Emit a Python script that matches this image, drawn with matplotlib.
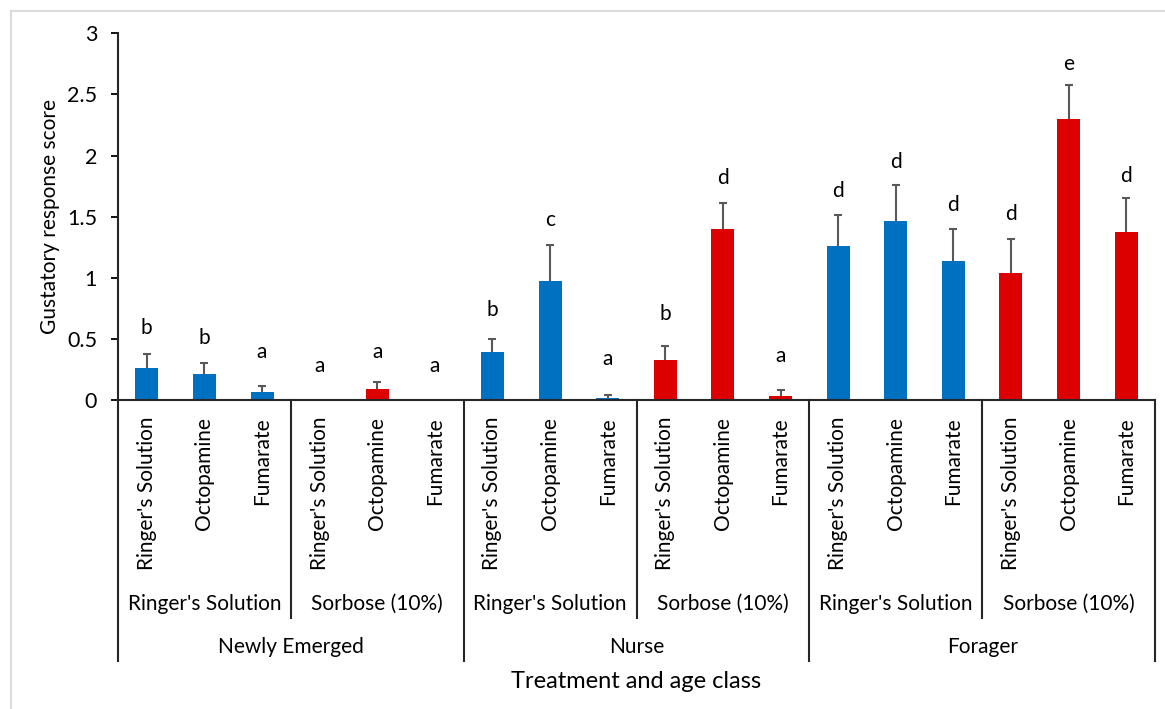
import matplotlib
matplotlib.use("Agg")
import matplotlib.pyplot as plt
import matplotlib.transforms as mtransforms
from matplotlib.lines import Line2D
import numpy as np

plt.rcParams['font.family'] = ['Lato', 'DejaVu Sans']

# ---- data -------------------------------------------------------------
treatments = ["Ringer's Solution", "Octopamine", "Fumarate"]
solutions = ["Ringer's Solution", "Sorbose (10%)"]
age_classes = ["Newly Emerged", "Nurse", "Forager"]

# mean gustatory response score, in plotting order (age > solution > treatment)
means = [0.26, 0.21, 0.065, 0.0, 0.09, 0.0,
         0.39, 0.975, 0.02, 0.33, 1.40, 0.035,
         1.26, 1.465, 1.135, 1.04, 2.295, 1.375]
# standard error (upper whisker only)
errors = [0.12, 0.09, 0.05, 0.0, 0.06, 0.0,
          0.11, 0.295, 0.02, 0.11, 0.215, 0.05,
          0.25, 0.29, 0.26, 0.275, 0.285, 0.28]
# significance groups and the height of their baselines
sig_letters = ["b", "b", "a", "a", "a", "a",
               "b", "c", "a", "b", "d", "a",
               "d", "d", "d", "d", "e", "d"]
sig_heights = [0.54, 0.46, 0.34, 0.23, 0.34, 0.23,
               0.69, 1.42, 0.285, 0.655, 1.77, 0.31,
               1.66, 1.895, 1.55, 1.475, 2.70, 1.78]

yticks = [0, 0.5, 1, 1.5, 2, 2.5, 3]
ytick_labels = ["0", "0.5", "1", "1.5", "2", "2.5", "3"]

BLUE = "#0070C0"
RED = "#DD0000"
solution_colors = [BLUE, RED]

# ---- figure -----------------------------------------------------------
W, H = 1165, 709
fig = plt.figure(figsize=(W / 100, H / 100), dpi=100)
fig.patch.set_facecolor("white")

x0_px, x1_px = 118, 1155
y0_px, y3_px = 400, 33.3
ax = fig.add_axes([x0_px / W, 1 - y0_px / H,
                   (x1_px - x0_px) / W, (y0_px - y3_px) / H])

n = len(means)
x = np.arange(n)
colors = [solution_colors[(i // 3) % 2] for i in range(n)]

ax.bar(x, means, width=0.4, color=colors, zorder=3)

err = np.array(errors)
m = np.array(means)
has_err = err > 0
# whiskers sit behind the bars so only the upper half shows
ax.errorbar(x[has_err], m[has_err], yerr=err[has_err],
            fmt="none", ecolor="#595959", elinewidth=1.5,
            capsize=3.2, capthick=1.5, zorder=2)

for xi, lab, h in zip(x, sig_letters, sig_heights):
    ax.text(xi, h, lab, ha="center", va="baseline", fontsize=15,
            color="black")

ax.set_xlim(-0.5, n - 0.5)
ax.set_ylim(0, 3)
ax.set_yticks(yticks)
ax.set_yticklabels(ytick_labels, fontsize=15.5)
ax.tick_params(axis="y", length=5, width=1.3, pad=10, colors="black")
ax.set_xticks([])
for side in ("top", "right"):
    ax.spines[side].set_visible(False)
for side in ("left", "bottom"):
    ax.spines[side].set_linewidth(1.5)
    ax.spines[side].set_color("#262626")
    ax.spines[side].set_zorder(4)

# ---- multi-level category axis ----------------------------------------
trans = mtransforms.blended_transform_factory(ax.transData, fig.transFigure)


def fy(p):
    return 1 - p / H


for i in range(n):
    ax.text(i, fy(417), treatments[i % 3], rotation=90, ha="center",
            va="top", fontsize=15, transform=trans)

for g in range(n // 3):
    ax.text(3 * g + 1, fy(604), solutions[g % 2], ha="center",
            va="center", fontsize=15, transform=trans)

for a, name in enumerate(age_classes):
    ax.text(6 * a + 2.5, fy(647), name, ha="center", va="center",
            fontsize=15, transform=trans)

sep_color = "#262626"
for k in range(n // 3 + 1):
    xs = 3 * k - 0.5
    bottom = 661 if k % 2 == 0 else 618
    ax.add_line(Line2D([xs, xs], [fy(y0_px), fy(bottom)], transform=trans,
                       color=sep_color, lw=1.5, clip_on=False))

fig.text((x0_px + x1_px) / 2 / W, fy(681), "Treatment and age class",
         ha="center", va="center", fontsize=17)
fig.text(50 / W, fy(217), "Gustatory response score", rotation=90,
         ha="center", va="center", fontsize=15)

# light frame on the top and left edges
fig.add_artist(Line2D([11 / W, 1], [fy(11), fy(11)], transform=fig.transFigure,
                      color="#dcdcdc", lw=1.5))
fig.add_artist(Line2D([11 / W, 11 / W], [fy(11), 0], transform=fig.transFigure,
                      color="#dcdcdc", lw=1.5))

fig.savefig("out.png", dpi=100, facecolor="white")
